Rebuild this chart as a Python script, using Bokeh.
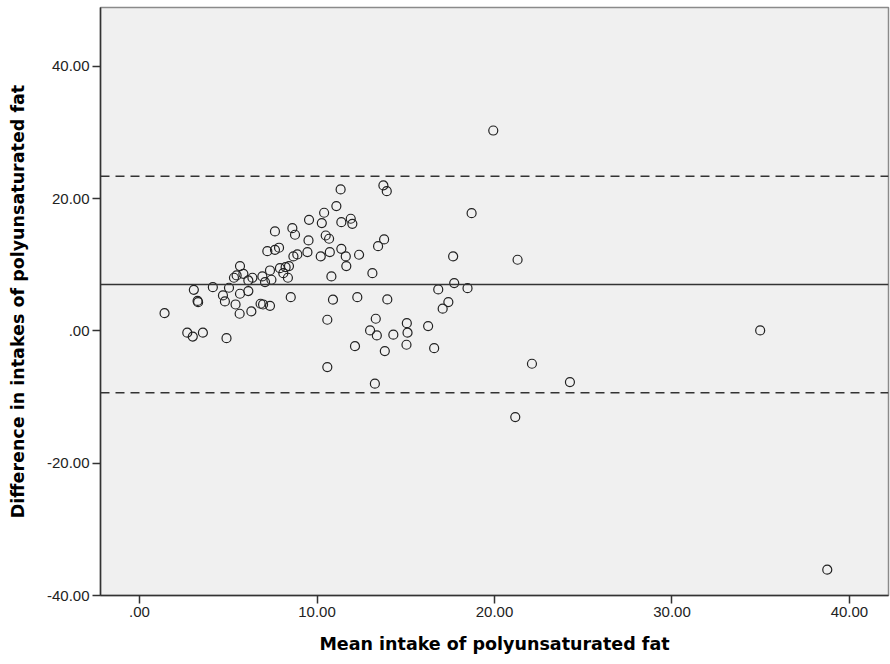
from bokeh.plotting import figure
from bokeh.models import Range1d, FixedTicker, Span
from bokeh.embed import file_html
from bokeh.resources import INLINE

mean_intake = [1.41, 2.69, 3.00, 3.57, 4.90, 3.06, 3.27, 3.30, 4.13, 4.70,
               4.81, 5.04, 5.41, 5.64, 5.66, 6.13, 6.30, 5.32, 5.47, 5.66,
               5.85, 6.13, 6.36, 6.82, 6.96, 7.35, 6.92, 7.07, 7.43, 7.35,
               7.20, 7.63, 7.86, 7.63, 7.91, 8.10, 8.23, 8.42, 8.36, 8.52,
               8.67, 8.89, 8.61, 8.76, 9.46, 9.52, 9.55, 10.21, 10.27, 10.40,
               10.49, 10.68, 10.72, 10.81, 10.90, 10.58, 11.09, 11.33, 11.37, 11.37,
               11.62, 11.65, 11.90, 11.99, 12.27, 12.37, 13.12, 13.31, 12.99, 13.37,
               13.44, 13.74, 13.93, 13.78, 13.96, 14.30, 15.06, 15.10, 16.26, 16.83,
               17.08, 17.40, 17.67, 17.73, 18.48, 18.71, 19.93, 21.30, 12.14, 13.82,
               15.04, 16.60, 10.58, 13.26, 22.11, 24.25, 21.17, 38.75, 34.97]
difference = [2.69, -0.27, -0.85, -0.27, -1.10, 6.22, 4.53, 4.35, 6.62, 5.37,
              4.46, 6.53, 4.00, 2.60, 5.62, 6.02, 2.95, 8.04, 8.39, 9.80,
              8.64, 7.63, 8.04, 4.11, 4.00, 3.80, 8.24, 7.38, 7.74, 9.14,
              12.06, 12.27, 12.58, 15.04, 9.49, 8.74, 9.64, 9.80, 8.04, 5.11,
              11.26, 11.56, 15.54, 14.54, 11.91, 13.68, 16.80, 11.26, 16.30, 17.87,
              14.43, 13.94, 11.91, 8.24, 4.72, 1.69, 18.87, 21.39, 16.45, 12.42,
              11.26, 9.80, 16.96, 16.20, 5.11, 11.52, 8.74, 1.84, 0.08, -0.68,
              12.82, 22.00, 21.13, 13.83, 4.76, -0.57, 1.18, -0.27, 0.73, 6.27,
              3.36, 4.36, 11.26, 7.23, 6.47, 17.80, 30.30, 10.76, -2.30, -3.05,
              -2.09, -2.60, -5.47, -7.98, -4.96, -7.73, -13.03, -36.10, 0.08]

mean_diff = 7.03
upper_loa = 23.40
lower_loa = -9.34

x_ticks = [0, 10, 20, 30, 40]
x_tick_labels = [".00", "10.00", "20.00", "30.00", "40.00"]
y_ticks = [-40, -20, 0, 20, 40]
y_tick_labels = ["-40.00", "-20.00", ".00", "20.00", "40.00"]

p = figure(width=890, height=664, output_backend="svg", toolbar_location=None,
           x_range=Range1d(-2.2, 42.2), y_range=Range1d(-40, 48.9),
           min_border_left=100, min_border_right=2, min_border_top=7,
           min_border_bottom=69)
p.background_fill_color = "#f0f0f0"
p.border_fill_color = "white"
p.outline_line_color = "#8a8a8a"
p.outline_line_width = 1.5
p.xgrid.visible = False
p.ygrid.visible = False

for ax, ticks, labels in ((p.xaxis[0], x_ticks, x_tick_labels), (p.yaxis[0], y_ticks, y_tick_labels)):
    ax.ticker = FixedTicker(ticks=ticks)
    ax.major_label_overrides = {t: l for t, l in zip(ticks, labels)}
    ax.minor_tick_line_color = None
    ax.major_tick_in = 0
    ax.major_tick_out = 8
    ax.major_tick_line_color = "#333333"
    ax.major_tick_line_width = 1.5
    ax.axis_line_color = "#333333"
    ax.axis_line_width = 1.5
    ax.major_label_text_font = "Liberation Sans"
    ax.major_label_text_font_size = "15px"
    ax.major_label_text_color = "#222222"
    ax.major_label_standoff = 3
    ax.axis_label_text_font = "DejaVu Sans"
    ax.axis_label_text_font_style = "bold"
    ax.axis_label_text_font_size = "17.5px"
    ax.axis_label_text_color = "black"

p.xaxis.axis_label = "Mean intake of polyunsaturated fat"
p.yaxis.axis_label = "Difference in intakes of polyunsaturated fat"
p.xaxis.axis_label_standoff = 14
p.yaxis.axis_label_standoff = 16

p.add_layout(Span(location=mean_diff, dimension="width", line_color="#333333", line_width=1.5))
p.add_layout(Span(location=upper_loa, dimension="width", line_color="#333333", line_width=1.5, line_dash="9 6"))
p.add_layout(Span(location=lower_loa, dimension="width", line_color="#333333", line_width=1.5, line_dash="9 6"))

p.scatter(mean_intake, difference, marker="circle", size=9, fill_color=None,
          line_color="#222222", line_width=1.2)

open("out.html", "w").write(file_html(p, INLINE))
